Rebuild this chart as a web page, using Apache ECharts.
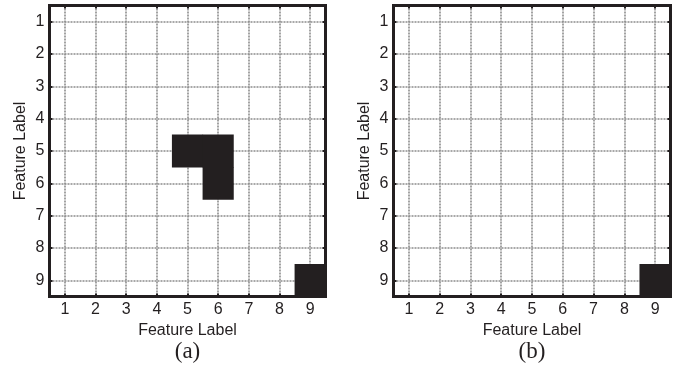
<!DOCTYPE html>
<html><head><meta charset="utf-8">
<script src="https://cdn.jsdelivr.net/npm/echarts@6/dist/echarts.min.js"></script>
<style>html,body{margin:0;padding:0;background:#fff}#c{width:681px;height:373px}</style>
</head><body><div id="c"></div>
<script>
const tickLabels = ['1','2','3','4','5','6','7','8','9'];
// filled cells as [column, row] (1-based feature labels)
const cellsA = [[5,5],[6,5],[6,6],[9,9]];
const cellsB = [[9,9]];
const panelTitles = ['(a)', '(b)'];
const axisName = 'Feature Label';

const font = 'Liberation Sans, Arial, sans-serif';
const ink = '#231f20';
const grids = [
  {left: 49.5, top: 5.5, width: 276, height: 291},
  {left: 393.5, top: 5.5, width: 277, height: 291}
];
const toData = cells => cells.map(c => [c[0]-1, c[1]-1, 1]);

const gridLine = {show: true, alignWithLabel: true, lineStyle: {color: '#8c8c8c', width: 1.6, type: [2, 1]}};
const tick = {show: true, inside: true, alignWithLabel: true, length: 3, lineStyle: {color: ink, width: 2}};

const xAxes = [], yAxes = [], series = [];
grids.forEach((g, i) => {
  xAxes.push({gridIndex: i, type: 'category', data: tickLabels, position: 'bottom',
    axisLine: {show: false}, axisTick: tick, splitLine: gridLine, splitArea: {show: false},
    axisLabel: {color: ink, fontFamily: font, fontSize: 16, margin: 5},
    name: axisName, nameLocation: 'middle', nameGap: 23,
    nameTextStyle: {color: ink, fontFamily: font, fontSize: 16}});
  xAxes.push({gridIndex: i, type: 'category', data: tickLabels, position: 'top',
    axisLine: {show: false}, axisTick: tick, axisLabel: {show: false}, splitLine: {show: false}});
  yAxes.push({gridIndex: i, type: 'category', data: tickLabels, inverse: true, position: 'left',
    axisLine: {show: false}, axisTick: tick, splitLine: gridLine, splitArea: {show: false},
    axisLabel: {color: ink, fontFamily: font, fontSize: 16, margin: 5},
    name: axisName, nameLocation: 'middle', nameGap: 21, nameRotate: 90,
    nameTextStyle: {color: ink, fontFamily: font, fontSize: 16}});
  yAxes.push({gridIndex: i, type: 'category', data: tickLabels, inverse: true, position: 'right',
    axisLine: {show: false}, axisTick: tick, axisLabel: {show: false}, splitLine: {show: false}});
  series.push({type: 'heatmap', xAxisIndex: i*2, yAxisIndex: i*2,
    data: toData(i === 0 ? cellsA : cellsB), itemStyle: {color: ink}, emphasis: {disabled: true}});
});

const chart = echarts.init(document.getElementById('c'), null, {renderer: 'canvas'});
chart.setOption({
  animation: false,
  backgroundColor: '#fff',
  grid: grids.map(g => Object.assign({show: true, borderColor: ink, borderWidth: 3, backgroundColor: 'transparent', z: 3}, g)),
  visualMap: {show: false, type: 'piecewise', pieces: [{value: 1, color: ink}], dimension: 2},
  xAxis: xAxes,
  yAxis: yAxes,
  series: series,
  graphic: panelTitles.map((t, i) => ({type: 'text', x: grids[i].left + grids[i].width/2, y: 352,
    style: {text: t, fill: ink, font: '23px "Liberation Serif", "Times New Roman", serif', textAlign: 'center', textVerticalAlign: 'middle'}}))
});
</script></body></html>
